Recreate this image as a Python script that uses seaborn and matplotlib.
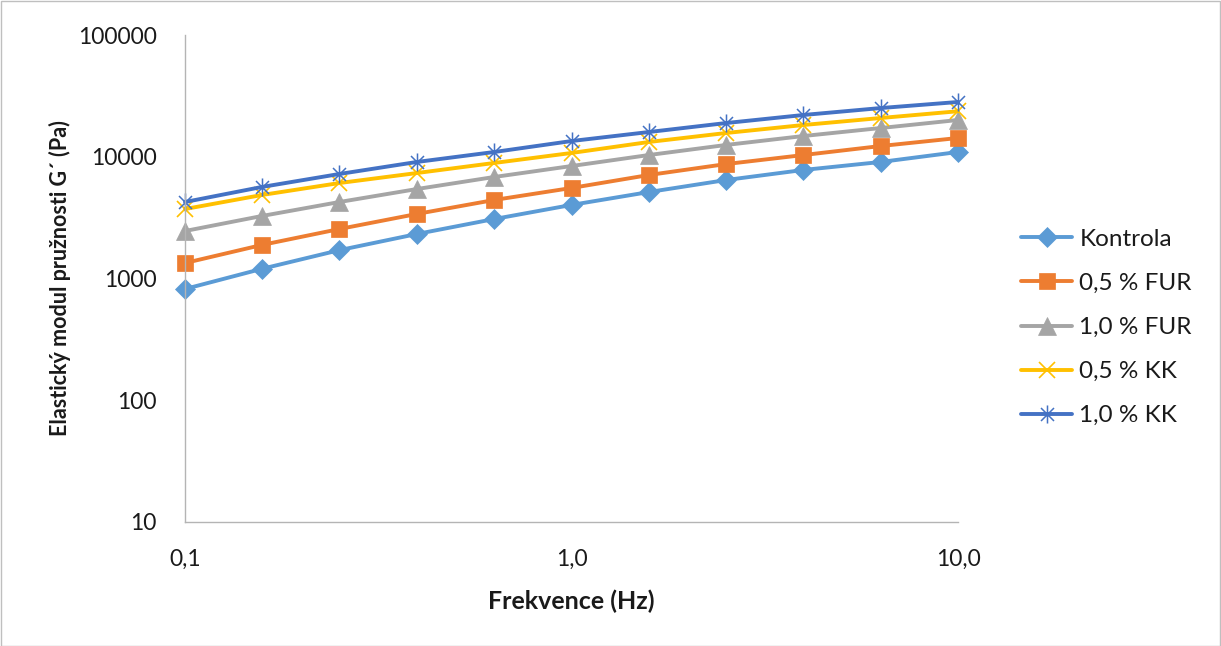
import numpy as np
import pandas as pd
import matplotlib
matplotlib.use("Agg")
import matplotlib.pyplot as plt
from matplotlib.path import Path
from matplotlib.patches import Rectangle
from matplotlib.ticker import FixedLocator, FixedFormatter, NullLocator
import seaborn as sns

# Frequency sweep (Hz) and storage modulus G' (Pa) per sample
frekvence = [0.1, 0.158, 0.251, 0.398, 0.631, 1.0, 1.585, 2.512, 3.981, 6.31, 10.0]
kontrola = [820, 1200, 1710, 2320, 3080, 4020, 5130, 6440, 7790, 9060, 10940]
fur_05 = [1340, 1885, 2550, 3390, 4415, 5540, 7080, 8710, 10330, 12250, 14260]
fur_10 = [2455, 3260, 4250, 5430, 6820, 8390, 10330, 12500, 14800, 17220, 20040]
kk_05 = [3720, 4850, 6085, 7350, 8890, 10740, 13220, 15670, 18230, 20810, 23650]
kk_10 = [4250, 5645, 7220, 9060, 10940, 13460, 15960, 18920, 22030, 25120, 28170]

series_names = ["Kontrola", "0,5 % FUR", "1,0 % FUR", "0,5 % KK", "1,0 % KK"]
series_values = [kontrola, fur_05, fur_10, kk_05, kk_10]

x_ticks = [0.1, 1.0, 10.0]
x_tick_labels = ["0,1", "1,0", "10,0"]
y_ticks = [10, 100, 1000, 10000, 100000]
y_tick_labels = ["10", "100", "1000", "10000", "100000"]

# Asterisk marker: vertical bar plus an x
asterisk = Path(
    [(0, -1), (0, 1), (-0.72, -0.72), (0.72, 0.72), (-0.72, 0.72), (0.72, -0.72)],
    [Path.MOVETO, Path.LINETO, Path.MOVETO, Path.LINETO, Path.MOVETO, Path.LINETO],
)

styles = [
    dict(color="#5B9BD5", marker="D", markersize=10.5, mec="#5B9BD5", mew=0.5),
    dict(color="#ED7D31", marker="s", markersize=12, mec="#ED7D31", mew=0.5),
    dict(color="#A5A5A5", marker="^", markersize=13, mec="#A5A5A5", mew=0.5),
    dict(color="#FFC000", marker="x", markersize=11.5, mec="#FFC000", mew=1.2),
    dict(color="#4472C4", marker=asterisk, markersize=13, mec="#4472C4", mew=1.1),
]

sns.set_theme(style="white")
plt.rcParams["font.family"] = ["Lato", "DejaVu Sans"]

fig = plt.figure(figsize=(12.21, 6.46), dpi=100)
ax = fig.add_axes([185 / 1221, 1 - 522 / 646, (958 - 185) / 1221, (522 - 35) / 646])

frames = []
for name, vals in zip(series_names, series_values):
    frames.append(pd.DataFrame({"Frekvence": frekvence, "G": vals, "Vzorek": name}))
data = pd.concat(frames, ignore_index=True)

for name, st in zip(series_names, styles):
    sub = data[data["Vzorek"] == name]
    sns.lineplot(data=sub, x="Frekvence", y="G", ax=ax, label=name,
                 linewidth=2.8, clip_on=False, estimator=None, sort=True,
                 **st)

ax.set_xscale("log")
ax.set_yscale("log")
ax.set_xlim(0.1, 10)
ax.set_ylim(10, 100000)

ax.xaxis.set_major_locator(FixedLocator(x_ticks))
ax.xaxis.set_major_formatter(FixedFormatter(x_tick_labels))
ax.xaxis.set_minor_locator(NullLocator())
ax.yaxis.set_major_locator(FixedLocator(y_ticks))
ax.yaxis.set_major_formatter(FixedFormatter(y_tick_labels))
ax.yaxis.set_minor_locator(NullLocator())

spine_col = "#b4b4b4"
for side in ["top", "right"]:
    ax.spines[side].set_visible(False)
for side in ["left", "bottom"]:
    ax.spines[side].set_color(spine_col)
    ax.spines[side].set_linewidth(1.0)

ax.tick_params(axis="both", which="major", direction="out", length=5.5,
               width=1.0, color=spine_col, labelsize=16.5, labelcolor="#1a1a1a")
ax.tick_params(axis="x", pad=14)
ax.tick_params(axis="y", pad=15)

ax.set_xlabel("Frekvence (Hz)", fontsize=18, fontweight="bold", color="#1a1a1a", labelpad=14)
ax.set_ylabel("Elastický modul pružnosti G´ (Pa)", fontsize=15.5, fontweight="bold",
              color="#1a1a1a", labelpad=5)
ax.grid(False)

handles, labels = ax.get_legend_handles_labels()
ax.legend(handles, labels, loc="center left", bbox_to_anchor=(1021 / 1221, 1 - 327.5 / 646),
          bbox_transform=fig.transFigure, frameon=False, fontsize=17.5,
          handlelength=2.1, handletextpad=0.3, labelspacing=0.95, borderpad=0,
          borderaxespad=0, labelcolor="#1a1a1a")

fig.patches.append(Rectangle((0.5 / 1221, 0.5 / 646), 1 - 1.5 / 1221, 1 - 1.5 / 646,
                             transform=fig.transFigure, fill=False,
                             edgecolor="#bfbfbf", linewidth=1.0))

fig.savefig("out.png", dpi=100)
